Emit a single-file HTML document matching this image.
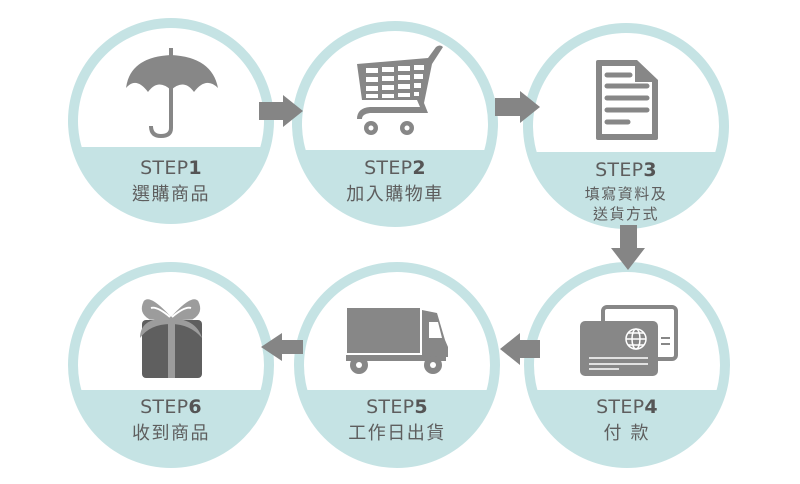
<!DOCTYPE html>
<html><head><meta charset="utf-8"><style>
html,body{margin:0;padding:0;background:#fff;}
svg{display:block}
.s{font-family:"DejaVu Sans","Liberation Sans",sans-serif;font-size:19px;fill:#5e5e5e;letter-spacing:0.3px}
.n{font-weight:bold;fill:#555}
.c{font-family:"Liberation Sans","Noto Sans CJK TC",sans-serif;font-size:18px;fill:#5e5e5e;letter-spacing:1.5px}
</style></head><body>
<svg width="800" height="484" viewBox="0 0 800 484" xmlns="http://www.w3.org/2000/svg">
<clipPath id="k1"><rect x="0" y="0" width="800" height="147"/></clipPath>
<clipPath id="k2"><rect x="0" y="0" width="800" height="150"/></clipPath>
<clipPath id="k3"><rect x="0" y="0" width="800" height="152"/></clipPath>
<clipPath id="k4"><rect x="0" y="0" width="800" height="390"/></clipPath>

<circle cx="171" cy="121" r="103" fill="#c5e3e4"/>
<circle cx="171" cy="121" r="93" fill="#fff" clip-path="url(#k1)"/>
<circle cx="395" cy="124" r="103" fill="#c5e3e4"/>
<circle cx="395" cy="124" r="93" fill="#fff" clip-path="url(#k2)"/>
<circle cx="626" cy="126" r="103" fill="#c5e3e4"/>
<circle cx="626" cy="126" r="93" fill="#fff" clip-path="url(#k3)"/>
<circle cx="627" cy="365" r="103" fill="#c5e3e4"/>
<circle cx="627" cy="365" r="93" fill="#fff" clip-path="url(#k4)"/>
<circle cx="397" cy="365" r="103" fill="#c5e3e4"/>
<circle cx="397" cy="365" r="93" fill="#fff" clip-path="url(#k4)"/>
<circle cx="171" cy="365" r="103" fill="#c5e3e4"/>
<circle cx="171" cy="365" r="93" fill="#fff" clip-path="url(#k4)"/>

<g fill="#858585">
<polygon points="259,102 283,102 283,95 303,111 283,127 283,120 259,120"/>
<polygon points="495,98 520,98 520,91 540,107 520,123 520,116 495,116"/>
<polygon points="620,225 637,225 637,248 645,248 628,270 611,248 620,248"/>
<polygon points="540,340 520,340 520,333 500,349 520,365 520,358 540,358"/>
<polygon points="303,340 282,340 282,333 261,347 282,361 282,354 303,354"/>
</g>

<g fill="#878787">
<rect x="169" y="48" width="4" height="10"/>
<path d="M126,88 Q130,57 171,55 Q212,57 218,88 Q206,76 194,92 Q184,78 171,90 Q158,78 148,92 Q136,76 126,88Z"/>
</g>
<path d="M171,85 V128 Q171,136 161,136 Q151,136 151,126" fill="none" stroke="#878787" stroke-width="4"/>

<g fill="#878787">
<path d="M357,64 L428,58 L436,47 Q440,44 443,47 L432,64 L424,103 L428,113 L370,113 Q362,114 362,119 L357,119 Q357,108 370,107 L420,107 L417,100 L362,100 Z"/>
<circle cx="371" cy="128" r="7"/><circle cx="407" cy="128" r="7"/>
</g>
<g fill="#fff">
<circle cx="371" cy="128" r="2.5"/><circle cx="407" cy="128" r="2.5"/>
<rect x="366" y="68" width="12" height="5"/><rect x="382" y="67" width="12" height="5"/><rect x="398" y="66" width="12" height="5"/><rect x="414" y="65" width="10" height="5"/>
<rect x="366" y="77" width="12" height="5"/><rect x="382" y="76" width="12" height="5"/><rect x="398" y="75" width="12" height="5"/><rect x="414" y="74" width="9" height="5"/>
<rect x="366" y="86" width="12" height="5"/><rect x="382" y="85" width="12" height="5"/><rect x="398" y="84" width="12" height="5"/><rect x="414" y="83" width="7" height="5"/>
<rect x="366" y="94" width="12" height="4"/><rect x="382" y="94" width="12" height="4"/><rect x="398" y="93" width="12" height="4"/><rect x="414" y="92" width="5" height="4"/>
</g>

<path d="M598,60 H637 L658,80 V138 Q658,140 656,140 H598 Q596,140 596,138 V62 Q596,60 598,60Z" fill="#878787"/>
<path d="M602,66 H635 V82 H652 V134 H602Z" fill="#fff"/>
<g stroke="#878787" stroke-width="5" stroke-linecap="round">
<line x1="607" y1="75" x2="630" y2="75"/><line x1="607" y1="86" x2="647" y2="86"/><line x1="607" y1="98" x2="647" y2="98"/><line x1="607" y1="110" x2="647" y2="110"/><line x1="607" y1="122" x2="628" y2="122"/>
</g>

<rect x="603" y="307" width="73" height="52" rx="4" fill="none" stroke="#878787" stroke-width="4"/>
<rect x="580" y="321" width="78" height="55" rx="5" fill="#878787"/>
<g stroke="#fff" stroke-width="1.5" fill="none">
<circle cx="636" cy="339" r="10"/><ellipse cx="636" cy="339" rx="4" ry="10"/><line x1="626" y1="339" x2="646" y2="339"/><line x1="628" y1="333" x2="644" y2="333"/><line x1="628" y1="345" x2="644" y2="345"/>
<line x1="589" y1="358" x2="648" y2="358"/><line x1="589" y1="364" x2="648" y2="364"/><line x1="589" y1="369" x2="619" y2="369"/>
</g>
<g stroke="#878787" stroke-width="2"><line x1="661" y1="338" x2="670" y2="338"/><line x1="661" y1="344" x2="670" y2="344"/></g>

<g fill="#878787">
<rect x="347" y="308" width="73" height="45"/>
<path d="M422,310 L437,313 L445,340 L448,347 V357 H422Z"/>
<rect x="346" y="355" width="100" height="6"/>
<circle cx="359" cy="365" r="9"/><circle cx="433" cy="365" r="9"/>
</g>
<path d="M429,322 H438 L442,338 H429Z" fill="#fff"/>
<circle cx="359" cy="365" r="3" fill="#fff"/><circle cx="433" cy="365" r="3" fill="#fff"/>

<rect x="142" y="320" width="60" height="58" rx="4" fill="#5f5f5f"/>
<path d="M140,338 Q140,318 168,318 Q196,318 202,338 Q190,324 171,324 Q150,324 140,338Z" fill="#9c9c9c"/>
<rect x="168" y="318" width="7" height="60" fill="#9c9c9c"/>
<path d="M171,319 Q150,296 145,302 Q140,312 150,318Z M171,319 Q192,296 197,302 Q202,312 192,318Z" fill="#9c9c9c" stroke="#9c9c9c" stroke-width="3"/>
<path d="M170,317 Q157,306 151,308 M172,317 Q185,306 191,308" stroke="#fff" stroke-width="2" fill="none"/>

<text x="171" y="174" text-anchor="middle" class="s">STEP<tspan class="n">1</tspan></text>
<text x="171" y="200" text-anchor="middle" class="c">選購商品</text>
<text x="395" y="174" text-anchor="middle" class="s">STEP<tspan class="n">2</tspan></text>
<text x="395" y="200" text-anchor="middle" class="c">加入購物車</text>
<text x="626" y="176" text-anchor="middle" class="s">STEP<tspan class="n">3</tspan></text>
<text x="626" y="199" text-anchor="middle" class="c" style="font-size:15px">填寫資料及</text>
<text x="626" y="219" text-anchor="middle" class="c" style="font-size:15px">送貨方式</text>
<text x="627" y="413" text-anchor="middle" class="s">STEP<tspan class="n">4</tspan></text>
<text x="627" y="439" text-anchor="middle" class="c" style="letter-spacing:2px">付 款</text>
<text x="397" y="413" text-anchor="middle" class="s">STEP<tspan class="n">5</tspan></text>
<text x="397" y="439" text-anchor="middle" class="c">工作日出貨</text>
<text x="171" y="413" text-anchor="middle" class="s">STEP<tspan class="n">6</tspan></text>
<text x="171" y="439" text-anchor="middle" class="c">收到商品</text>
</svg>
</body></html>
